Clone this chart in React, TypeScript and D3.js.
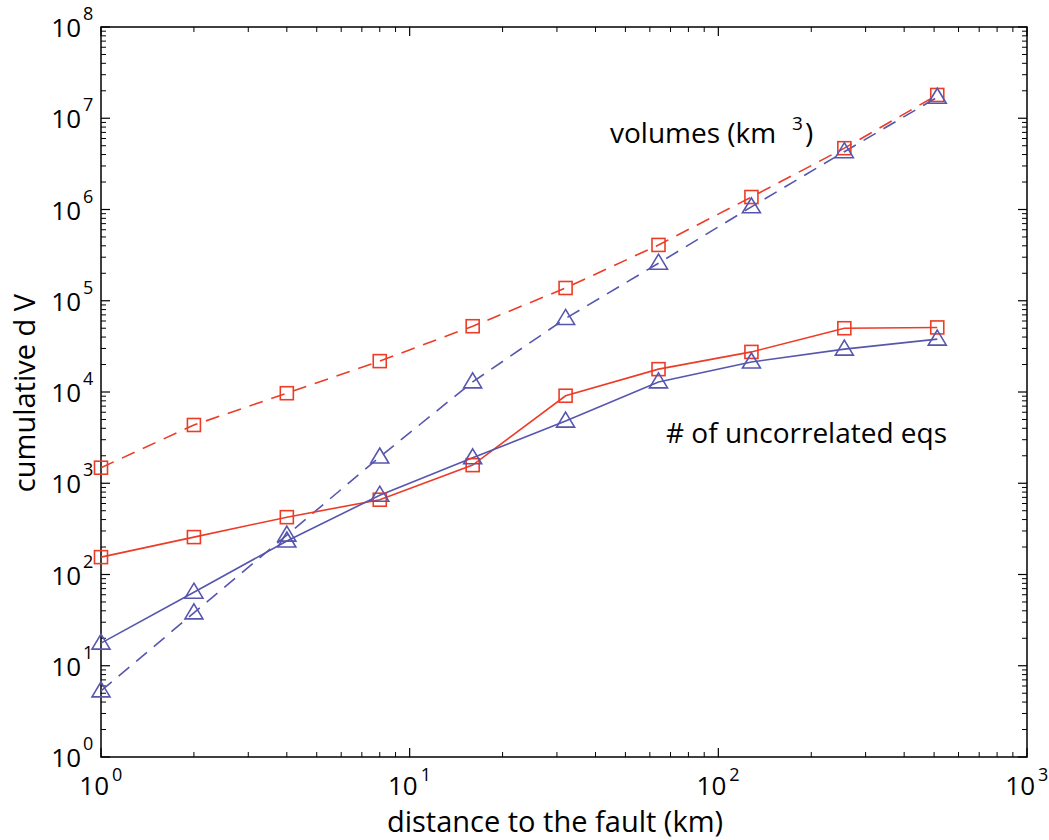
import React from "react";
import * as d3 from "d3";

const distances = [1, 2, 4, 8, 16, 32, 64, 128, 256, 512];
const volRed = [1480, 4350, 9700, 21800, 52600, 138000, 409000, 1370000, 4700000, 18000000];
const volBlue = [5.3, 38, 270, 1940, 12900, 64000, 258000, 1070000, 4300000, 17000000];
const eqRed = [155, 257, 425, 660, 1580, 9100, 17800, 27500, 50000, 51000];
const eqBlue = [17.7, 64, 233, 740, 1900, 4800, 12900, 21300, 29500, 38000];
const yTickExps = [0, 1, 2, 3, 4, 5, 6, 7, 8];
const xTickExps = [0, 1, 2, 3];

const W = 1049, H = 840;
const L = 101, R = 1027, T = 27, B = 757;
const RED = "#ec3c26";
const BLUE = "#5656ae";
const FONT = "'Open Sans', 'Noto Sans', sans-serif";

export default function App() {
  const x = d3.scaleLog().domain([1, 1000]).range([L, R]);
  const y = d3.scaleLog().domain([1, 1e8]).range([B, T]);
  const line = d3.line<number>().x((_, i) => x(distances[i])).y((v) => y(v));

  const minorX: number[] = [];
  for (let e = 0; e < 3; e++) for (let m = 2; m <= 9; m++) minorX.push(m * Math.pow(10, e));
  const minorY: number[] = [];
  for (let e = 0; e < 8; e++) for (let m = 2; m <= 9; m++) minorY.push(m * Math.pow(10, e));

  const square = (v: number, i: number, key: string) => (
    <rect key={key + i} x={x(distances[i]) - 6.5} y={y(v) - 6.5} width={13} height={13}
      fill="none" stroke={RED} strokeWidth={1.6} />
  );
  const tri = (v: number, i: number, key: string) => {
    const cx = x(distances[i]), cy = y(v);
    return (
      <path key={key + i} d={`M${cx},${cy - 9}L${cx + 9},${cy + 6}L${cx - 9},${cy + 6}Z`}
        fill="none" stroke={BLUE} strokeWidth={1.6} />
    );
  };

  return (
    <svg width={W} height={H} style={{ position: "absolute", left: 0, top: 0, background: "#fff" }}
      fontFamily={FONT}>
      <rect x={0} y={0} width={W} height={H} fill="#fff" />
      {yTickExps.map((e) => (
        <g key={"yt" + e}>
          <line x1={L} x2={L + 9} y1={y(Math.pow(10, e))} y2={y(Math.pow(10, e))} stroke="#000" strokeWidth={1.2} />
          <line x1={R} x2={R - 9} y1={y(Math.pow(10, e))} y2={y(Math.pow(10, e))} stroke="#000" strokeWidth={1.2} />
          <text x={81} y={y(Math.pow(10, e)) + 10} textAnchor="end" fontSize={26} fill="#000">10</text>
          <text x={83} y={y(Math.pow(10, e)) - 7} fontSize={18} fill="#000">{e}</text>
        </g>
      ))}
      {minorY.map((v) => (
        <g key={"ym" + v}>
          <line x1={L} x2={L + 5} y1={y(v)} y2={y(v)} stroke="#000" strokeWidth={1} />
          <line x1={R} x2={R - 5} y1={y(v)} y2={y(v)} stroke="#000" strokeWidth={1} />
        </g>
      ))}
      {xTickExps.map((e) => (
        <g key={"xt" + e}>
          <line x1={x(Math.pow(10, e))} x2={x(Math.pow(10, e))} y1={B} y2={B - 9} stroke="#000" strokeWidth={1.2} />
          <line x1={x(Math.pow(10, e))} x2={x(Math.pow(10, e))} y1={T} y2={T + 9} stroke="#000" strokeWidth={1.2} />
          <text x={x(Math.pow(10, e)) + 8} y={795} textAnchor="end" fontSize={26} fill="#000">10</text>
          <text x={x(Math.pow(10, e)) + 11} y={781} fontSize={18} fill="#000">{e}</text>
        </g>
      ))}
      {minorX.map((v) => (
        <g key={"xm" + v}>
          <line x1={x(v)} x2={x(v)} y1={B} y2={B - 5} stroke="#000" strokeWidth={1} />
          <line x1={x(v)} x2={x(v)} y1={T} y2={T + 5} stroke="#000" strokeWidth={1} />
        </g>
      ))}
      <rect x={L} y={T} width={R - L} height={B - T} fill="none" stroke="#000" strokeWidth={1.5} />

      <path d={line(volRed) || ""} fill="none" stroke={RED} strokeWidth={1.6} strokeDasharray="14,9" />
      <path d={line(volBlue) || ""} fill="none" stroke={BLUE} strokeWidth={1.6} strokeDasharray="14,9" />
      <path d={line(eqRed) || ""} fill="none" stroke={RED} strokeWidth={1.6} />
      <path d={line(eqBlue) || ""} fill="none" stroke={BLUE} strokeWidth={1.6} />
      {volRed.map((v, i) => square(v, i, "vr"))}
      {eqRed.map((v, i) => square(v, i, "er"))}
      {volBlue.map((v, i) => tri(v, i, "vb"))}
      {eqBlue.map((v, i) => tri(v, i, "eb"))}

      <text x={610} y={143} fontSize={28} fill="#000">volumes (km</text>
      <text x={792} y={130} fontSize={19} fill="#000">3</text>
      <text x={805} y={143} fontSize={28} fill="#000">)</text>
      <text x={666} y={443} fontSize={28} fill="#000"># of uncorrelated eqs</text>

      <text x={555} y={832} textAnchor="middle" fontSize={29} fill="#000">distance to the fault (km)</text>
      <text transform="translate(35,393) rotate(-90)" textAnchor="middle" fontSize={29} fill="#000">cumulative d V</text>
    </svg>
  );
}
